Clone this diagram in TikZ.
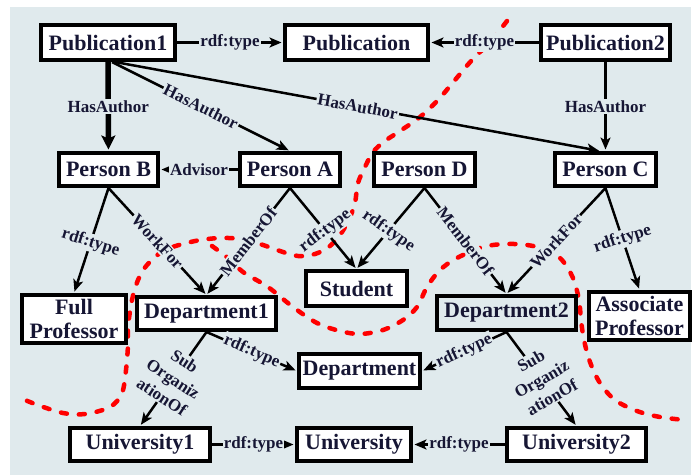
\documentclass[tikz,border=0pt]{standalone}
\usepackage{fontspec}
\setmainfont{Liberation Serif}
\usetikzlibrary{arrows.meta}
\definecolor{panel}{RGB}{224,234,237}
\definecolor{ink}{RGB}{22,22,52}
\definecolor{cutred}{RGB}{255,0,0}

\begin{document}
\begin{tikzpicture}[x=1pt,y=-1pt,
  box/.style={draw=black,line width=4pt,fill=white,inner sep=0pt,text=ink,
    font=\bfseries\fontsize{22}{24}\selectfont,align=center},
  lbl/.style={fill=panel,inner sep=1.2pt,text=ink,
    font=\bfseries\fontsize{17}{17}\selectfont},
  lblstack/.style={lbl,align=center,font=\bfseries\fontsize{17}{21}\selectfont},
  edge/.style={draw=black,line width=2.5pt,shorten >=1.5pt,
    -{Stealth[length=12pt,width=10pt,inset=3pt]}},
  heavy/.style={line width=3.5pt},
  cut/.style={draw=cutred,line width=4.5pt,line cap=round,dash pattern=on 6pt off 12pt}
]
\useasboundingbox (0,0) rectangle (695,475);
\fill[white] (0,0) rectangle (695,475);
\fill[panel] (10,7) rectangle (691,475);

% partition boundaries
\draw[cut] plot[smooth,tension=0.55] coordinates {
  (507,21) (490,42) (472,60) (455,80) (438,100) (420,117) (400,131)
  (385,141) (373,152) (365,167) (358,183) (355,203) (350,217) (342,232)
  (330,246) (315,254) (298,256) (280,251) (260,244) (240,239) (220,238)
  (195,241) (165,250) (147,265) (138,280) (132,300) (128,327) (128,345)
  (126,370) (122,393) (110,407) (85,414) (63,413) (35,404) (16,396)};
\draw[cut] plot[smooth,tension=0.55] coordinates {
  (212,246) (228,258) (243,272) (268,287) (293,307) (317,323) (340,331)
  (360,334) (383,330) (403,320) (417,307) (427,287) (440,270) (457,258)
  (483,247) (505,244) (527,245) (548,250) (562,260) (573,278) (579,300)
  (581,320) (584,340) (590,362) (600,383) (615,400) (637,411) (660,417)
  (685,420)};

% entities
\node[box,minimum width=134pt,minimum height=35pt] (pub1) at (108,42.5) {Publication1};
\node[box,minimum width=143pt,minimum height=35pt] (publ) at (356.5,42.5) {Publication};
\node[box,minimum width=129pt,minimum height=35pt] (pub2) at (605.5,42.5) {Publication2};
\node[box,minimum width=99pt,minimum height=33pt] (pb) at (108.5,169.5) {Person B};
\node[box,minimum width=100pt,minimum height=33pt] (pa) at (290,169.5) {Person A};
\node[box,minimum width=101pt,minimum height=33pt] (pd) at (424.5,169.5) {Person D};
\node[box,minimum width=101pt,minimum height=33pt] (pc) at (605.5,169.5) {Person C};
\node[box,minimum width=104pt,minimum height=48pt] (fullprof) at (74,319) {Full\\Professor};
\node[box,minimum width=139pt,minimum height=33pt] (dept1) at (206.5,313.5) {Department1};
\node[box,minimum width=101pt,minimum height=35pt] (student) at (356.5,288.5) {Student};
\node[box,fill=panel,minimum width=139pt,minimum height=34pt] (dept2) at (506.5,313) {Department2};
\node[box,minimum width=101pt,minimum height=48pt] (assoc) at (639.5,316) {Associate\\Professor};
\node[box,minimum width=121pt,minimum height=34pt] (dept) at (359.5,371) {Department};
\node[box,minimum width=140pt,minimum height=33pt] (uni1) at (140,444.5) {University1};
\node[box,minimum width=114pt,minimum height=33pt] (uni) at (354,444.5) {University};
\node[box,minimum width=139pt,minimum height=33pt] (uni2) at (576.5,444.5) {University2};

% relations
\draw[edge,heavy] (pub1) -- node[lbl]{rdf:type} (publ);
\draw[edge,heavy] (pub2) -- node[lbl]{rdf:type} (publ);
\draw[edge,line width=5.5pt,-{Stealth[length=14pt,width=14pt,inset=3pt]}] (pub1) -- node[lbl]{HasAuthor} (pb);
\draw[edge] ([xshift=4pt]pub1.south) -- node[lbl,sloped]{HasAuthor} (pa.north);
\draw[edge] ([xshift=7pt]pub1.south) -- node[lbl,sloped]{HasAuthor} ([xshift=-5pt]pc.north);
\draw[edge] (pub2) -- node[lbl]{HasAuthor} (pc);
\draw[edge] (pa) -- node[lbl]{Advisor} (pb);
\draw[edge] (pb.south) -- node[lbl,rotate=-17,pos=0.52]{rdf:type} (fullprof.north);
\draw[edge] (pb.south) -- node[lbl,sloped]{WorkFor} (dept1.north);
\draw[edge] (pa.south) -- node[lbl,sloped]{MemberOf} (dept1.north);
\draw[edge] (pa.south) -- node[lbl,rotate=37,pos=0.53]{rdf:type} (student.north);
\draw[edge] (pd.south) -- node[lbl,rotate=-35,pos=0.53]{rdf:type} (student.north);
\draw[edge] (pd.south) -- node[lbl,sloped]{MemberOf} (dept2.north);
\draw[edge] (pc.south) -- node[lbl,sloped]{WorkFor} (dept2.north);
\draw[edge] (pc.south) -- node[lbl,rotate=18]{rdf:type} (assoc.north);
\draw[edge] (dept1.south) -- node[lbl,sloped]{rdf:type} (dept.west);
\draw[edge] (dept2.south) -- node[lbl,sloped]{rdf:type} (dept.east);
\draw[edge] (dept1.south) -- node[lblstack,rotate=-33]{Sub\\Organiz\\ationOf} (uni1.north);
\draw[edge] (dept2.south) -- node[lblstack,rotate=30]{Sub\\Organiz\\ationOf} (uni2.north);
\draw[edge,heavy] (uni1) -- node[lbl]{rdf:type} (uni);
\draw[edge,heavy] (uni2) -- node[lbl]{rdf:type} (uni);
\end{tikzpicture}
\end{document}
